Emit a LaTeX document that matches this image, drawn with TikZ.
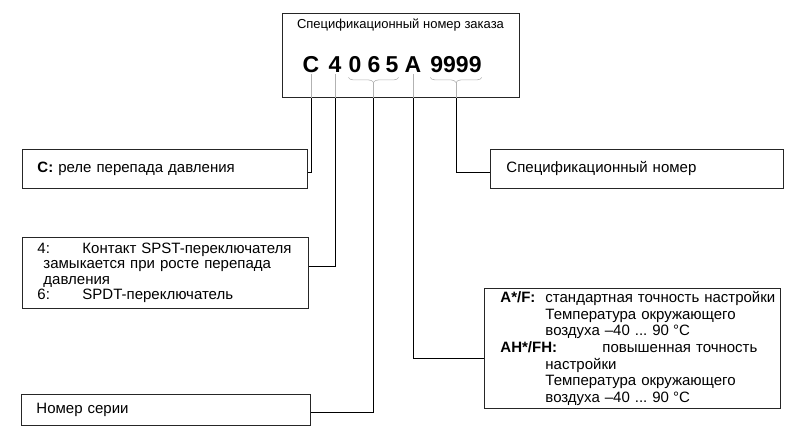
\documentclass[tikz,border=0pt]{standalone}
\usepackage{fontspec}
\setmainfont{Liberation Sans}
\usetikzlibrary{decorations.pathreplacing,calc}
\frenchspacing

\begin{document}
\begin{tikzpicture}[x=1pt,y=-1pt,
    every node/.style={font=\fontsize{15}{15.3}\selectfont},
    box/.style={draw=black!85,line width=0.9pt,anchor=north west,align=left,inner ysep=0pt},
    digit/.style={anchor=base,inner sep=0pt,font=\fontsize{23}{23}\selectfont\bfseries},
    guide/.style={draw=black!30,line width=0.6pt},
    lead/.style={draw=black,line width=0.7pt}]
    \useasboundingbox (0,0) rectangle (807,439);
    % order number
    \node[box,minimum width=237,minimum height=84] (order) at (282,13) {};
    \node[font=\fontsize{13}{13}\selectfont] (title) at (400.5,25) {Спецификационный номер заказа};
    \node[digit] (kC) at (311,72) {C};
    \node[digit] (k4) at (335,72) {4};
    \node[digit] (k0) at (355,72) {0};
    \node[digit] (k6) at (374,72) {6};
    \node[digit] (k5) at (392,72) {5};
    \node[digit] (kA) at (413,72) {A};
    \node[digit] (k9) at (456,72) {9999};
    % braces
    \draw[guide,decorate,decoration={brace,mirror,amplitude=5pt}] ([yshift=-5pt]k0.south west) -- ([yshift=-5pt]k5.south east);
    \draw[guide,decorate,decoration={brace,mirror,amplitude=5pt}] ([yshift=-5pt]k9.south west) -- ([yshift=-5pt]k9.south east);
    \coordinate (b1) at ($(k0.south west)!.5!(k5.south east)+(0,10)$);
    \coordinate (b2) at ($(k9.south west)!.5!(k9.south east)+(0,10)$);
    % explanation boxes
    \node[box,inner xsep=15pt,text width=255,minimum height=39] (rC) at (22,149) {\textbf{C:} реле перепада давления};
    \node[box,inner xsep=15pt,text width=256,minimum height=71] (r4) at (22,237)
        {\mbox{\makebox[45pt][l]{4:}Контакт SPST-переключателя}\\
         \hspace*{6pt}замыкается при росте перепада\\
         \hspace*{6pt}давления\\
         \makebox[45pt][l]{6:}SPDT-переключатель};
    \node[box,inner xsep=15pt,text width=259,minimum height=31] (r065) at (21,394) {Номер серии};
    \node[box,inner xsep=16pt,text width=261,minimum height=39] (r9) at (490,149) {Спецификационный номер};
    \node[box,inner xsep=16pt,text width=264,minimum height=120,font=\fontsize{15}{16.7}\selectfont] (rA) at (484,288)
        {\mbox{\makebox[45pt][l]{\bfseries A*/F:}стандартная точность настройки}\\
         \hspace*{45pt}Температура окружающего\\
         \hspace*{45pt}воздуха –40 ... 90 \kern-1pt°C\\
         \mbox{\makebox[102pt][l]{\bfseries AH*/FH:}повышенная точность}\\
         \hspace*{45pt}настройки\\
         \hspace*{45pt}Температура окружающего\\
         \hspace*{45pt}воздуха –40 ... 90 \kern-1pt°C};
    % connectors
    \draw[guide] ([yshift=-2pt]kC.south) -- (kC |- order.south);
    \draw[guide] ([yshift=-2pt]k4.south) -- (k4 |- order.south);
    \draw[guide] ([yshift=-2pt]kA.south) -- (kA |- order.south);
    \draw[guide] (b1) -- (b1 |- order.south);
    \draw[guide] (b2) -- (b2 |- order.south);
    \draw[lead] (kC |- order.south) |- ([yshift=-3.5pt]rC.east);
    \draw[lead] (k4 |- order.south) |- ([yshift=6.5pt]r4.east);
    \draw[lead] (b1 |- order.south) |- ([yshift=-2.5pt]r065.east);
    \draw[lead] (kA |- order.south) |- ([yshift=-10pt]rA.west);
    \draw[lead] (b2 |- order.south) |- ([yshift=-3.5pt]r9.west);
\end{tikzpicture}
\end{document}
